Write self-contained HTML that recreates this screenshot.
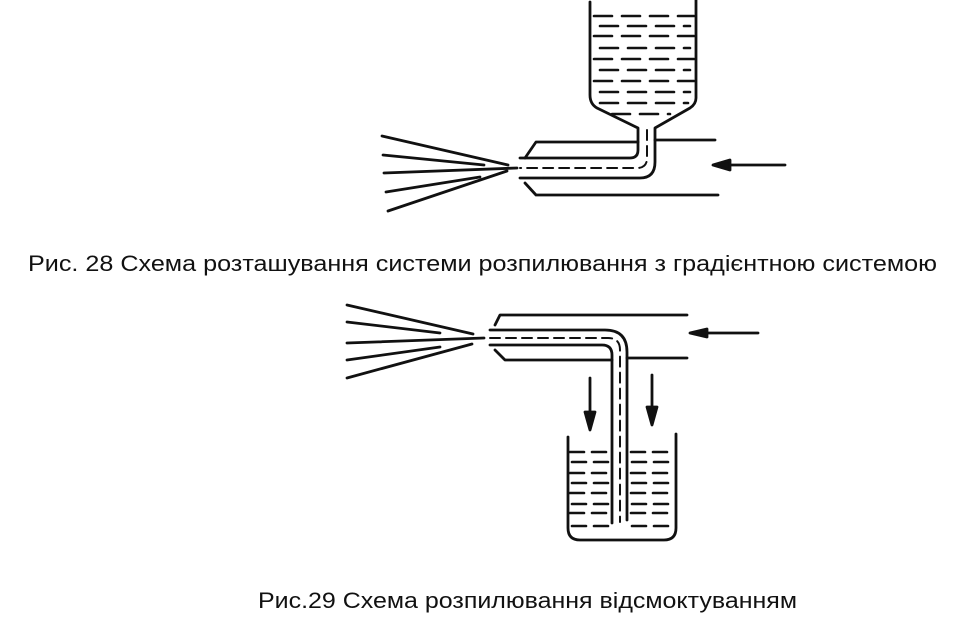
<!DOCTYPE html>
<html><head><meta charset="utf-8"><style>
html,body{margin:0;padding:0;background:#fff;width:955px;height:626px;overflow:hidden}
svg{display:block}
text{font-family:"Liberation Sans",sans-serif;font-size:22px;fill:#111}
</style></head><body>
<svg width="955" height="626" viewBox="0 0 955 626" xmlns="http://www.w3.org/2000/svg">
<g fill="none" stroke="#111" stroke-width="2.8" stroke-linecap="round" stroke-linejoin="round">
<!-- Figure 1 tank -->
<path d="M590 2 V95 Q590 104 597 108 L638 128 V150 Q638 158 630 158 H520"/>
<path d="M696 0 V98 Q696 104 690 108 L655 128 V162 Q655 178 640 178 H520"/>
<path d="M525 158 L536 142 H638"/>
<path d="M655 140 H715"/>
<path d="M525 183 L536 195 H718"/>
<path d="M785 165 H716"/>
<path d="M713 165 L730 160 L730 170 Z" fill="#111"/>
<path d="M647 130 V158 Q647 168 637 168 H520" stroke-dasharray="10 6" stroke-width="2"/>
<!-- spray 1 -->
<path d="M382 136 L508 165 M383 155 L484 165 M384 173 L517 168 M386 192 L480 177 M388 211 L507 171"/>
<!-- tank liquid -->
<g stroke-width="2.6" stroke-dasharray="18 10">
<path d="M594 16 H694 M600 26 H690 M594 36 H694 M600 48 H690 M594 59 H694 M600 70 H690 M594 81 H694 M600 92 H690 M600 103 H688 M612 114 H670"/>
</g>
<!-- Figure 2 -->
<path d="M495 325 L500 315 H687"/>
<path d="M490 330 H605 Q627 330 627 352 V520"/>
<path d="M490 345 H602 Q612 345 612 355 V523"/>
<path d="M495 350 L505 360 H612"/>
<path d="M627 358 H687"/>
<path d="M758 333 H692"/>
<path d="M690 333 L707 329 L707 337 Z" fill="#111"/>
<path d="M490 338 H608 Q620 338 620 350 V522" stroke-dasharray="10 6" stroke-width="2"/>
<!-- spray 2 -->
<path d="M347 305 L473 334 M347 322 L440 333 M347 343 L484 338 M347 360 L440 347 M347 378 L472 344"/>
<!-- down arrows -->
<path d="M590 378 V420 M652 375 V415"/>
<path d="M590 430 L585 412 L595 412 Z M652 425 L647 407 L657 407 Z" fill="#111"/>
<!-- beaker -->
<path d="M568 437 V528 Q568 540 580 540 H664 Q676 540 676 528 V434"/>
<g stroke-width="2.6" stroke-dasharray="14 8">
<path d="M570 452 H608 M631 452 H674 M572 462 H608 M632 462 H670 M570 473 H608 M631 473 H674 M572 483 H608 M632 483 H670 M570 493 H608 M631 493 H674 M572 504 H608 M632 504 H670 M570 513 H608 M631 513 H674 M572 526 H608 M632 526 H670"/>
</g>
</g>
<text x="28" y="271" textLength="909" lengthAdjust="spacingAndGlyphs">Рис. 28 Схема розташування системи розпилювання з  градієнтною системою</text>
<text x="258" y="608" textLength="539" lengthAdjust="spacingAndGlyphs">Рис.29 Схема розпилювання відсмоктуванням</text>
</svg>
</body></html>
